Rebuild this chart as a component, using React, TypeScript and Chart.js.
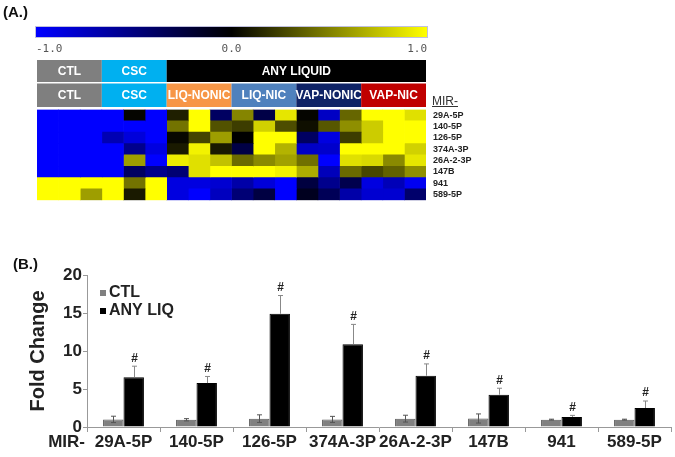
import React, { useEffect, useRef } from "react";
import { Chart, registerables } from "chart.js";

Chart.register(...registerables);

const FONT = 'Arial, "Liberation Sans", sans-serif';

// ---------- Panel A: heatmap ----------
const mirLabels = ["29A-5P", "140-5P", "126-5P", "374A-3P", "26A-2-3P", "147B", "941", "589-5P"];
const colorbarTicks = ["-1.0", "0.0", "1.0"];

// 18 samples per row: CTL x3, CSC x3, LIQ-NONIC x3, LIQ-NIC x3, VAP-NONIC x3, VAP-NIC x3
const row29A = [-1, -1, -1, -1, 0.02, -1, 0.12, 1, -0.38, 0.52, -0.28, 0.9, 0.02, -0.77, 0.4, 1, 1, 0.88];
const row140 = [-1, -1, -1, -1, -1, -1, 0.45, 1, 0.32, 0.24, 0.82, 0.3, 0.06, 0.34, 0.56, 0.8, 1, 1];
const row126 = [-1, -1, -1, -0.7, -0.86, -1, 0.03, 0.27, 0.62, 0.0, 1, 1, -0.38, -0.88, 0.24, 0.8, 1, 1];
const row374A = [-1, -1, -1, -1, -0.55, -0.88, 0.1, 0.95, 0.1, -0.27, 1, 0.7, -0.78, -0.8, 1, 1, 1, 0.82];
const row26A = [-1, -1, -1, -1, 0.62, -1, 0.93, 0.88, 0.76, 0.42, 0.54, 0.63, 0.44, -1, 0.88, 0.85, 0.54, 0.9];
const row147B = [-1, -1, -1, -1, -0.38, -0.55, -0.45, 0.88, 1, 1, 1, 0.95, 0.68, -0.73, 0.42, 0.28, 0.38, 0.56];
const row941 = [1, 1, 1, 1, 0.45, 1, -0.88, -0.88, -0.82, -0.66, -0.85, -1, -0.25, -0.55, -0.3, -0.88, -0.72, -0.95];
const row589 = [1, 1, 0.62, 1, 0.1, 1, -0.88, -1, -0.75, -0.46, -0.26, -1, -0.12, -0.34, -0.66, -0.82, -0.82, -0.42];
const heatRows = [row29A, row140, row126, row374A, row26A, row147B, row941, row589];

const topGroups = [
  { label: "CTL", from: 0, to: 3, color: "#7f7f7f" },
  { label: "CSC", from: 3, to: 6, color: "#00b0f0" },
  { label: "ANY LIQUID", from: 6, to: 18, color: "#000000" },
];
const subGroups = [
  { label: "CTL", from: 0, to: 3, color: "#7f7f7f" },
  { label: "CSC", from: 3, to: 6, color: "#00b0f0" },
  { label: "LIQ-NONIC", from: 6, to: 9, color: "#f79646" },
  { label: "LIQ-NIC", from: 9, to: 12, color: "#4f81bd" },
  { label: "VAP-NONIC", from: 12, to: 15, color: "#0f2366" },
  { label: "VAP-NIC", from: 15, to: 18, color: "#c00000" },
];

// ---------- Panel B: bar chart ----------
const categories = ["29A-5P", "140-5P", "126-5P", "374A-3P", "26A-2-3P", "147B", "941", "589-5P"];
const ctlMean = [1.0, 0.95, 1.1, 1.0, 1.1, 1.12, 0.97, 0.97];
const ctlErr = [0.42, 0.15, 0.5, 0.4, 0.45, 0.6, 0.06, 0.06];
const liqMean = [6.55, 5.78, 14.9, 10.9, 6.75, 4.25, 1.33, 2.5];
const liqErr = [1.45, 0.87, 2.4, 2.6, 1.55, 0.85, 0.2, 0.92];
const seriesNames = ["CTL", "ANY LIQ"];
const seriesColors = ["#808080", "#000000"];

function valueColor(v: number): string {
  const c = Math.round(Math.min(1, Math.abs(v)) * 255);
  return v >= 0 ? `rgb(${c},${c},0)` : `rgb(0,0,${c})`;
}

const heatPlugin = {
  id: "heatDecor",
  afterDraw(chart: any) {
    const { ctx, chartArea } = chart;
    const xs = chart.scales.x;
    const x0 = xs.getPixelForValue(0);
    const x1 = xs.getPixelForValue(18);
    ctx.save();
    // (A.)
    ctx.fillStyle = "#111";
    ctx.font = `bold 15px ${FONT}`;
    ctx.textAlign = "left";
    ctx.textBaseline = "middle";
    ctx.fillText("(A.)", 3, 13);

    // colour bar
    const cbTop = 27;
    const cbH = 10;
    const grad = ctx.createLinearGradient(x0, 0, x1, 0);
    grad.addColorStop(0, valueColor(-1));
    grad.addColorStop(0.5, valueColor(0));
    grad.addColorStop(1, valueColor(1));
    ctx.fillStyle = grad;
    ctx.fillRect(x0 - 1, cbTop, x1 - x0 + 2, cbH);
    ctx.strokeStyle = "rgba(150,150,200,0.6)";
    ctx.lineWidth = 1;
    ctx.strokeRect(x0 - 1.5, cbTop - 0.5, x1 - x0 + 3, cbH + 1);
    ctx.fillStyle = "#555";
    ctx.font = `11px "DejaVu Sans Mono", monospace`;
    ctx.textBaseline = "middle";
    ctx.textAlign = "left";
    ctx.fillText(colorbarTicks[0], x0 - 1, 49);
    ctx.textAlign = "center";
    ctx.fillText(colorbarTicks[1], (x0 + x1) / 2, 49);
    ctx.textAlign = "right";
    ctx.fillText(colorbarTicks[2], x1 + 1, 49);

    // header bands
    const row2Bottom = chartArea.top - 2.5;
    const row2Top = row2Bottom - 23.5;
    const row1Bottom = row2Top - 1.5;
    const row1Top = row1Bottom - 22;
    const drawBands = (groups: any[], top: number, bottom: number) => {
      groups.forEach((g) => {
        const a = xs.getPixelForValue(g.from);
        const b = xs.getPixelForValue(g.to);
        ctx.fillStyle = g.color;
        ctx.fillRect(a, top, b - a, bottom - top);
        ctx.fillStyle = "#ffffff";
        ctx.font = `bold 12px ${FONT}`;
        ctx.textAlign = "center";
        ctx.textBaseline = "middle";
        ctx.fillText(g.label, (a + b) / 2, (top + bottom) / 2 + 0.5);
      });
    };
    drawBands(topGroups, row1Top, row1Bottom);
    drawBands(subGroups, row2Top, row2Bottom);

    // MIR- header
    ctx.fillStyle = "#333";
    ctx.font = `12px ${FONT}`;
    ctx.textAlign = "left";
    ctx.textBaseline = "alphabetic";
    const mx = chartArea.right + 6;
    const my = chartArea.top - 5;
    ctx.fillText("MIR-", mx, my);
    const w = ctx.measureText("MIR-").width;
    ctx.fillRect(mx, my + 1.5, w, 1);
    ctx.restore();
  },
};

const barPlugin = {
  id: "barDecor",
  afterDatasetsDraw(chart: any) {
    const { ctx } = chart;
    const ys = chart.scales.y;
    const m0 = chart.getDatasetMeta(0);
    const m1 = chart.getDatasetMeta(1);
    ctx.save();
    ctx.lineWidth = 1;
    // CTL error bars (symmetric)
    ctx.strokeStyle = "#555";
    m0.data.forEach((el: any, i: number) => {
      const x = Math.round(el.x) + 0.5;
      const yt = ys.getPixelForValue(ctlMean[i] + ctlErr[i]);
      const yb = ys.getPixelForValue(ctlMean[i] - ctlErr[i]);
      ctx.beginPath();
      ctx.moveTo(x, yt);
      ctx.lineTo(x, yb);
      ctx.moveTo(x - 2.5, yt);
      ctx.lineTo(x + 2.5, yt);
      ctx.moveTo(x - 2.5, yb);
      ctx.lineTo(x + 2.5, yb);
      ctx.stroke();
    });
    // ANY LIQ error bars (upper) + significance marks
    m1.data.forEach((el: any, i: number) => {
      const x = Math.round(el.x) + 0.5;
      const yt = ys.getPixelForValue(liqMean[i] + liqErr[i]);
      const yb = ys.getPixelForValue(liqMean[i]);
      ctx.strokeStyle = "#888";
      ctx.beginPath();
      ctx.moveTo(x, yt);
      ctx.lineTo(x, yb);
      ctx.moveTo(x - 2.5, yt);
      ctx.lineTo(x + 2.5, yt);
      ctx.stroke();
      ctx.fillStyle = "#222";
      ctx.font = `bold 12px ${FONT}`;
      ctx.textAlign = "center";
      ctx.textBaseline = "middle";
      ctx.fillText("#", x, yt - 8);
    });
    ctx.restore();
  },
  afterDraw(chart: any) {
    const { ctx, chartArea } = chart;
    ctx.save();
    // (B.)
    ctx.fillStyle = "#111";
    ctx.font = `bold 15px ${FONT}`;
    ctx.textAlign = "left";
    ctx.textBaseline = "middle";
    ctx.fillText("(B.)", 13, 35);
    // legend
    ctx.font = `bold 16px ${FONT}`;
    seriesNames.forEach((name, i) => {
      const ly = chartArea.top + 18 + i * 18;
      ctx.fillStyle = seriesColors[i];
      ctx.fillRect(chartArea.left + 13, ly - 3, 6, 6);
      ctx.fillStyle = "#222";
      ctx.fillText(name, chartArea.left + 22, ly);
    });
    // MIR- axis prefix
    ctx.font = `bold 17px ${FONT}`;
    ctx.textAlign = "right";
    ctx.fillStyle = "#222";
    ctx.fillText("MIR-", chartArea.left - 2, chartArea.bottom + 15);
    ctx.restore();
  },
};

export default function App() {
  const refA = useRef<HTMLCanvasElement>(null);
  const refB = useRef<HTMLCanvasElement>(null);

  useEffect(() => {
    const cols = heatRows[0].length;
    const heatDatasets = Array.from({ length: cols }, (_, c) => ({
      label: `S${c + 1}`,
      data: heatRows.map(() => 1),
      backgroundColor: heatRows.map((r) => valueColor(r[c])),
      borderWidth: 0,
      barPercentage: 1,
      categoryPercentage: 1,
    }));
    const chartA = new Chart(refA.current as HTMLCanvasElement, {
      type: "bar",
      data: { labels: mirLabels, datasets: heatDatasets },
      options: {
        indexAxis: "y",
        animation: false,
        responsive: false,
        events: [],
        layout: { padding: { left: 37, top: 109.5, bottom: 29.7, right: 189 } },
        plugins: { legend: { display: false }, tooltip: { enabled: false } },
        scales: {
          x: { type: "linear", stacked: true, min: 0, max: cols, display: false },
          y: {
            type: "category",
            position: "right",
            stacked: true,
            grid: { display: false, drawTicks: false },
            border: { display: false },
            ticks: {
              autoSkip: false,
              padding: 7,
              crossAlign: "near",
              color: "#222",
              font: { family: FONT, size: 9, weight: "bold" },
            },
            afterFit: (s: any) => {
              s.width = 60;
            },
          },
        },
      } as any,
      plugins: [heatPlugin],
    });

    const chartB = new Chart(refB.current as HTMLCanvasElement, {
      type: "bar",
      data: {
        labels: categories,
        datasets: [
          {
            label: seriesNames[0],
            data: ctlMean,
            backgroundColor: seriesColors[0],
            borderColor: "#5a5a5a",
            borderWidth: 1,
            barPercentage: 1,
            categoryPercentage: 0.56,
          },
          {
            label: seriesNames[1],
            data: liqMean,
            backgroundColor: seriesColors[1],
            borderColor: "#000",
            borderWidth: 1,
            barPercentage: 1,
            categoryPercentage: 0.56,
          },
        ],
      },
      options: {
        animation: false,
        responsive: false,
        events: [],
        layout: { padding: { left: 0, top: 45, right: 4, bottom: 0 } },
        plugins: { legend: { display: false }, tooltip: { enabled: false } },
        scales: {
          x: {
            grid: { drawOnChartArea: false, tickLength: 5, color: "#999", offset: true },
            border: { color: "#999" },
            ticks: {
              color: "#222",
              padding: 0,
              autoSkip: false,
              maxRotation: 0,
              minRotation: 0,
              font: { family: FONT, size: 17, weight: "bold" },
            },
            afterFit: (s: any) => {
              s.height = 30;
            },
          },
          y: {
            min: 0,
            max: 20,
            ticks: { stepSize: 5, padding: 1, color: "#222", font: { family: FONT, size: 17, weight: "bold" } },
            grid: { drawOnChartArea: false, tickLength: 4, color: "#999" },
            border: { color: "#999" },
            title: {
              display: true,
              text: "Fold Change",
              color: "#222",
              font: { family: FONT, size: 20, weight: "bold" },
              padding: { top: 26, bottom: 0 },
            },
            afterFit: (s: any) => {
              s.width = 87;
            },
          },
        },
      } as any,
      plugins: [barPlugin],
    });

    return () => {
      chartA.destroy();
      chartB.destroy();
    };
  }, []);

  return (
    <div style={{ position: "absolute", left: 0, top: 0, width: 675, height: 457, background: "#fff" }}>
      <canvas ref={refA} width={675} height={230} style={{ position: "absolute", left: 0, top: 0 }} />
      <canvas ref={refB} width={675} height={227} style={{ position: "absolute", left: 0, top: 230 }} />
    </div>
  );
}
